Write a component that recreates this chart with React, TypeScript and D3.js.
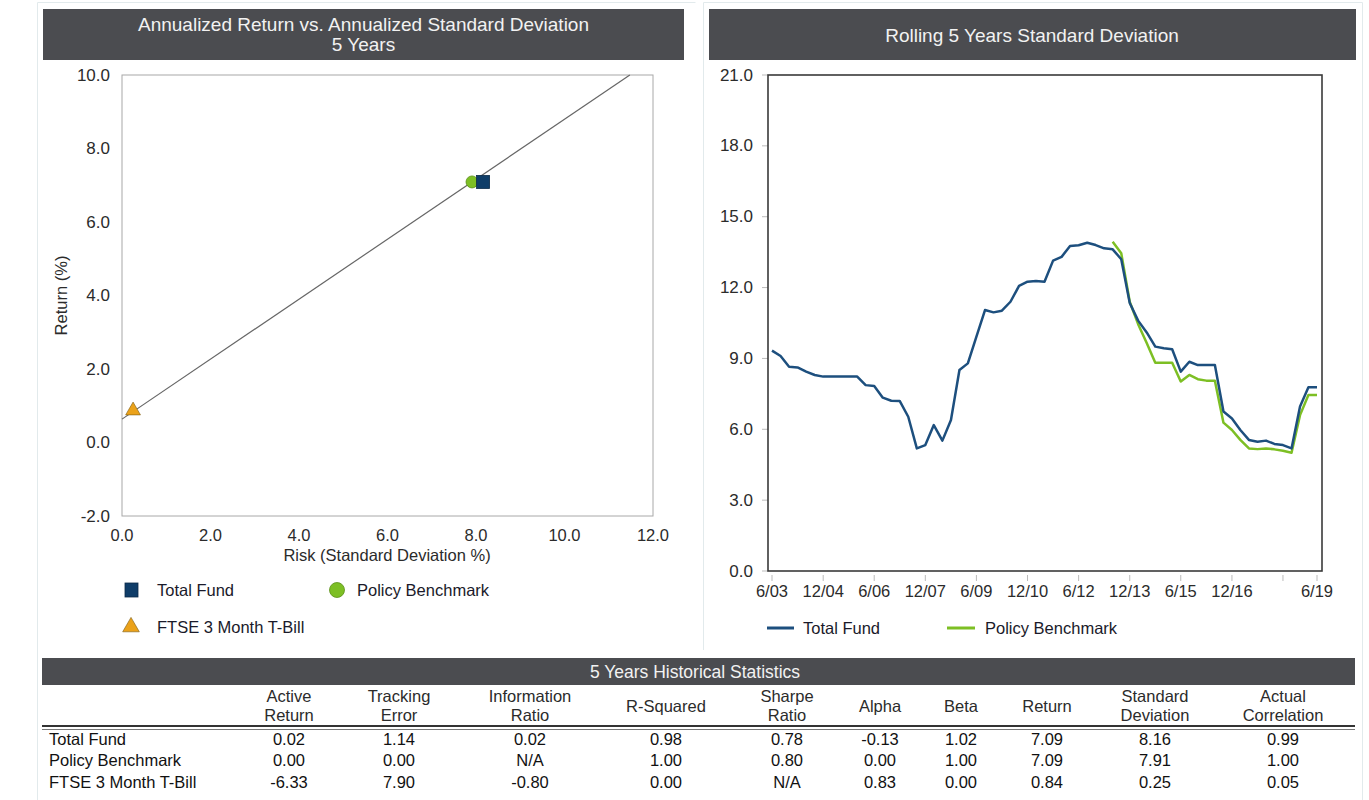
import React from "react";
import * as d3 from "d3";

// ---------- Data ----------
const scatterNames = ["Total Fund", "Policy Benchmark", "FTSE 3 Month T-Bill"];
const scatterRisk = [8.16, 7.91, 0.25];
const scatterReturn = [7.09, 7.09, 0.84];

const riskTicks = [0, 2, 4, 6, 8, 10, 12];
const returnTicks = [-2, 0, 2, 4, 6, 8, 10];

const quarters = [
  "2003-06","2003-09","2003-12","2004-03","2004-06","2004-09","2004-12","2005-03","2005-06","2005-09","2005-12",
  "2006-03","2006-06","2006-09","2006-12","2007-03","2007-06","2007-09","2007-12","2008-03","2008-06","2008-09","2008-12",
  "2009-03","2009-06","2009-09","2009-12","2010-03","2010-06","2010-09","2010-12","2011-03","2011-06","2011-09","2011-12",
  "2012-03","2012-06","2012-09","2012-12","2013-03","2013-06","2013-09","2013-12","2014-03","2014-06","2014-09","2014-12",
  "2015-03","2015-06","2015-09","2015-12","2016-03","2016-06","2016-09","2016-12","2017-03","2017-06","2017-09","2017-12",
  "2018-03","2018-06","2018-09","2018-12","2019-03","2019-06",
];
const totalFundSD = [
  9.33, 9.10, 8.65, 8.62, 8.44, 8.30, 8.23, 8.23, 8.23, 8.23, 8.23,
  7.87, 7.83, 7.34, 7.21, 7.20, 6.53, 5.19, 5.33, 6.18, 5.52, 6.39, 8.51,
  8.79, 9.92, 11.05, 10.95, 11.02, 11.40, 12.07, 12.25, 12.28, 12.25, 13.14, 13.30,
  13.76, 13.79, 13.90, 13.80, 13.66, 13.62, 13.20, 11.35, 10.60, 10.10, 9.50, 9.43,
  9.39, 8.44, 8.86, 8.72, 8.72, 8.72, 6.75, 6.46, 5.97, 5.55, 5.47, 5.52,
  5.38, 5.33, 5.19, 6.96, 7.78, 7.78,
];
// Policy Benchmark starts at 2013-06
const benchmarkStart = "2013-06";
const benchmarkSD = [
  13.94, 13.45, 11.40, 10.45, 9.65, 8.82, 8.82, 8.82, 8.02, 8.30, 8.12, 8.06, 8.06,
  6.28, 5.97, 5.55, 5.19, 5.16, 5.19, 5.15, 5.09, 5.01, 6.60, 7.45, 7.45,
];
const sdTicks = [0, 3, 6, 9, 12, 15, 18, 21];
const dateTicks = ["2003-06","2004-12","2006-06","2007-12","2009-06","2010-12","2012-06","2013-12","2015-06","2016-12","2018-06","2019-06"];
const dateTickLabels = ["6/03","12/04","6/06","12/07","6/09","12/10","6/12","12/13","6/15","12/16","","6/19"];

const statHeaders = [
  ["Active", "Return"], ["Tracking", "Error"], ["Information", "Ratio"], ["R-Squared"],
  ["Sharpe", "Ratio"], ["Alpha"], ["Beta"], ["Return"], ["Standard", "Deviation"], ["Actual", "Correlation"],
];
const statRows = ["Total Fund", "Policy Benchmark", "FTSE 3 Month T-Bill"];
const statTotalFund = ["0.02", "1.14", "0.02", "0.98", "0.78", "-0.13", "1.02", "7.09", "8.16", "0.99"];
const statBenchmark = ["0.00", "0.00", "N/A", "1.00", "0.80", "0.00", "1.00", "7.09", "7.91", "1.00"];
const statTBill = ["-6.33", "7.90", "-0.80", "0.00", "N/A", "0.83", "0.00", "0.84", "0.25", "0.05"];

// ---------- Styles ----------
const FONT = "'Liberation Sans', Arial, sans-serif";
const HEADER_BG = "#4b4c50";
const BLUE = "#1d4f7e";
const GREEN = "#7dbf24";
const SQUARE_FILL = "#0f3d68";
const TRI_FILL = "#eba21a";
const TXT = "#2b2b2b";
const HFS = 19;
const TFS = 17;
const BFS = 16.5;

const parseQ = d3.timeParse("%Y-%m");

export default function App() {
  // Left scatter
  const xL = d3.scaleLinear().domain([0, 12]).range([122, 653]);
  const yL = d3.scaleLinear().domain([-2, 10]).range([516, 75]);
  const slope = (scatterReturn[1] - scatterReturn[2]) / (scatterRisk[1] - scatterRisk[2]);
  const intercept = scatterReturn[2] - slope * scatterRisk[2];
  const xEnd = (10 - intercept) / slope;
  const cml = d3.line<number>()((
    [[xL(0), yL(intercept)], [xL(xEnd), yL(10)]] as any
  ));

  // Right line chart
  const xR = d3.scaleTime().domain([parseQ("2003-06")!, parseQ("2019-06")!]).range([772, 1317]);
  const yR = d3.scaleLinear().domain([0, 21]).range([571, 75]);
  const lineGen = d3.line<[Date, number]>().x((d) => xR(d[0])).y((d) => yR(d[1]));
  const fundPts: [Date, number][] = quarters.map((q, i) => [parseQ(q)!, totalFundSD[i]]);
  const bStart = quarters.indexOf(benchmarkStart);
  const benchPts: [Date, number][] = benchmarkSD.map((v, i) => [parseQ(quarters[bStart + i])!, v]);

  const colCenters = [289, 399, 530, 666, 787, 880, 961, 1047, 1155, 1283];
  const rowYs = [739, 760, 782];
  const rowsData = [statTotalFund, statBenchmark, statTBill];

  const sym = d3.symbol().type(d3.symbolTriangle).size(95)()!;

  return (
    <svg
      width={1369}
      height={800}
      style={{ position: "absolute", left: 0, top: 0, background: "#fff" }}
      fontFamily={FONT}
    >
      {/* faint panel borders */}
      <g stroke="#e2eaec" fill="none" strokeWidth={1}>
        <path d="M37.5,650 V2.5 H695.5" />
        <path d="M703.5,650 V2.5 H1362.5 V650" />
        <path d="M37.5,650 V800 M1362.5,650 V800" />
      </g>

      {/* ===== Left panel ===== */}
      <rect x={43} y={9} width={641} height={51} fill={HEADER_BG} />
      <text x={363.5} y={24} fill="#f2f2f2" fontSize={HFS} textAnchor="middle" dominantBaseline="central">
        Annualized Return vs. Annualized Standard Deviation
      </text>
      <text x={363.5} y={44} fill="#f2f2f2" fontSize={HFS} textAnchor="middle" dominantBaseline="central">
        5 Years
      </text>

      <rect x={122} y={75} width={531} height={441} fill="none" stroke="#a8a8a8" strokeWidth={1} />
      {returnTicks.map((t) => (
        <text key={"yl" + t} x={110} y={yL(t)} fill={TXT} fontSize={TFS} textAnchor="end" dominantBaseline="central">
          {t.toFixed(1)}
        </text>
      ))}
      {riskTicks.map((t) => (
        <text key={"xl" + t} x={xL(t)} y={534.5} fill={TXT} fontSize={16.5} textAnchor="middle" dominantBaseline="central">
          {t.toFixed(1)}
        </text>
      ))}
      <text
        transform={`translate(61,${(yL(10) + yL(-2)) / 2}) rotate(-90)`}
        fill={TXT}
        fontSize={BFS}
        textAnchor="middle"
        dominantBaseline="central"
      >
        Return (%)
      </text>
      <text x={387} y={554.5} fill={TXT} fontSize={16.5} textAnchor="middle" dominantBaseline="central">
        Risk (Standard Deviation %)
      </text>

      <path d={cml!} stroke="#666" strokeWidth={1.2} fill="none" />
      {/* markers */}
      <circle cx={xL(scatterRisk[1])} cy={yL(scatterReturn[1])} r={6} fill={GREEN} stroke="#5a8f18" strokeWidth={0.8} />
      <rect
        x={xL(scatterRisk[0]) - 6.5}
        y={yL(scatterReturn[0]) - 6.5}
        width={13}
        height={13}
        fill={SQUARE_FILL}
        stroke="#0a2a48"
        strokeWidth={0.8}
      />
      <path
        d={sym}
        transform={`translate(${xL(scatterRisk[2])},${yL(scatterReturn[2]) - 1})`}
        fill={TRI_FILL}
        stroke="#7a5a10"
        strokeWidth={0.6}
      />

      {/* left legend */}
      <rect x={125} y={583} width={13} height={14} fill={SQUARE_FILL} stroke="#0a2a48" strokeWidth={0.8} />
      <text x={157} y={590} fill="#1a1a2a" fontSize={BFS} dominantBaseline="central">{scatterNames[0]}</text>
      <circle cx={337} cy={590} r={7.5} fill={GREEN} stroke="#5a8f18" strokeWidth={0.8} />
      <text x={357} y={590} fill="#1a1a2a" fontSize={BFS} dominantBaseline="central">{scatterNames[1]}</text>
      <path d={d3.symbol().type(d3.symbolTriangle).size(120)()!} transform="translate(131,627)" fill={TRI_FILL} stroke="#7a5a10" strokeWidth={0.6} />
      <text x={157} y={627} fill="#1a1a2a" fontSize={BFS} dominantBaseline="central">{scatterNames[2]}</text>

      {/* ===== Right panel ===== */}
      <rect x={709} y={9} width={647} height={51} fill={HEADER_BG} />
      <text x={1032} y={35} fill="#f2f2f2" fontSize={HFS} textAnchor="middle" dominantBaseline="central">
        Rolling 5 Years Standard Deviation
      </text>

      {sdTicks.map((t) => (
        <g key={"yr" + t}>
          <line x1={762} x2={768} y1={yR(t)} y2={yR(t)} stroke="#bbb" />
          <text x={753} y={yR(t)} fill={TXT} fontSize={TFS} textAnchor="end" dominantBaseline="central">
            {t.toFixed(1)}
          </text>
        </g>
      ))}
      {dateTicks.map((d, i) => (
        <g key={"xr" + d}>
          <line x1={xR(parseQ(d)!)} x2={xR(parseQ(d)!)} y1={575} y2={581} stroke="#bbb" />
          <text x={xR(parseQ(d)!)} y={591} fill={TXT} fontSize={BFS} textAnchor="middle" dominantBaseline="central">
            {dateTickLabels[i]}
          </text>
        </g>
      ))}
      <path d={lineGen(benchPts)!} stroke={GREEN} strokeWidth={2.5} fill="none" strokeLinejoin="round" />
      <path d={lineGen(fundPts)!} stroke={BLUE} strokeWidth={2.5} fill="none" strokeLinejoin="round" />
      <rect x={768} y={75} width={554} height={496} fill="none" stroke="#3a3a3a" strokeWidth={1.6} />

      {/* right legend */}
      <line x1={767} x2={794} y1={628} y2={628} stroke={BLUE} strokeWidth={3} />
      <text x={803} y={628} fill="#1a1a2a" fontSize={BFS} dominantBaseline="central">{scatterNames[0]}</text>
      <line x1={947} x2={975} y1={628} y2={628} stroke={GREEN} strokeWidth={3} />
      <text x={985} y={628} fill="#1a1a2a" fontSize={BFS} dominantBaseline="central">{scatterNames[1]}</text>

      {/* ===== Table ===== */}
      <rect x={42} y={658} width={1313} height={27} fill={HEADER_BG} />
      <text x={695} y={671.5} fill="#f2f2f2" fontSize={17.5} textAnchor="middle" dominantBaseline="central">
        5 Years Historical Statistics
      </text>
      {statHeaders.map((h, i) =>
        h.length === 2 ? (
          <g key={"h" + i}>
            <text x={colCenters[i]} y={696} fill={TXT} fontSize={BFS} textAnchor="middle" dominantBaseline="central">{h[0]}</text>
            <text x={colCenters[i]} y={715} fill={TXT} fontSize={BFS} textAnchor="middle" dominantBaseline="central">{h[1]}</text>
          </g>
        ) : (
          <text key={"h" + i} x={colCenters[i]} y={706} fill={TXT} fontSize={BFS} textAnchor="middle" dominantBaseline="central">{h[0]}</text>
        )
      )}
      <line x1={42} x2={1355} y1={726} y2={726} stroke="#333" strokeWidth={2} />
      <line x1={42} x2={1355} y1={729.5} y2={729.5} stroke="#777" strokeWidth={1} />
      {statRows.map((r, ri) => (
        <g key={"r" + ri}>
          <text x={49} y={rowYs[ri]} fill="#111" fontSize={BFS} dominantBaseline="central">{r}</text>
          {rowsData[ri].map((v, ci) => (
            <text key={ci} x={colCenters[ci]} y={rowYs[ri]} fill="#111" fontSize={BFS} textAnchor="middle" dominantBaseline="central">
              {v}
            </text>
          ))}
        </g>
      ))}
    </svg>
  );
}
